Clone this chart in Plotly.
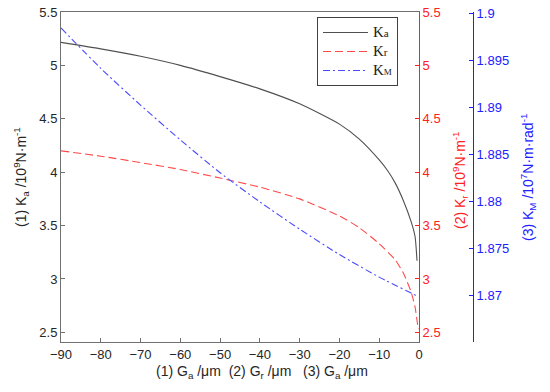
import plotly.graph_objects as go

# ---- data ----
ga_ka = [-90, -80, -70, -60, -50, -40, -30, -20, -15, -10, -8, -6, -4, -2, -1, -0.5]
ka = [5.216, 5.155, 5.085, 5.0, 4.895, 4.78, 4.64, 4.45, 4.31, 4.115, 4.02, 3.90, 3.74, 3.54, 3.40, 3.17]

gr_kr = [-90, -80, -70, -60, -50, -40, -30, -20, -15, -10, -6, -4, -2, -1, -0.3, -0.1]
kr = [4.20, 4.15, 4.09, 4.025, 3.945, 3.86, 3.75, 3.59, 3.48, 3.33, 3.18, 3.06, 2.88, 2.74, 2.56, 2.53]

ga_km = [-90, -80, -70, -60, -50, -40, -30, -20, -10, 0]
km = [1.8985, 1.8942, 1.8903, 1.8866, 1.8831, 1.8800, 1.8771, 1.8744, 1.8720, 1.8699]

x_ticks = [-90, -80, -70, -60, -50, -40, -30, -20, -10, 0]
k_ticks = [2.5, 3, 3.5, 4, 4.5, 5, 5.5]
km_ticks = [1.865, 1.87, 1.875, 1.88, 1.885, 1.89, 1.895, 1.9]
km_ticktext = ["1.865", "1.87", "1.875", "1.88", "1.885", "1.89", "1.895", "1.9"]

GRAY = "#404040"
RED = "#ff2020"
BLUE = "#2020ff"
FONT = "Liberation Sans, Arial, sans-serif"

# ---- geometry (pixels) ----
W, H = 550, 392
L, R, T, B = 61, 10, 12, 50
PW = W - L - R
PH = H - T - B
def px(x):
    return (x - L) / PW
def py(y):
    return 1 - (y - T) / PH

def leg(main, sub, subsize):
    return f"<span style='font-size:15px'>{main}</span><span style='font-size:{subsize}px'>{sub}</span>"

fig = go.Figure()
fig.add_trace(go.Scatter(x=ga_ka, y=ka, mode="lines", name=leg("K", "a", 11),
                         line=dict(color="#505050", width=1.1, shape="spline", smoothing=0.6), yaxis="y"))
fig.add_trace(go.Scatter(x=gr_kr, y=kr, mode="lines", name=leg("K", "r", 11),
                         line=dict(color="#ff4a4a", width=1.1, dash="8px,4px", shape="spline", smoothing=0.6),
                         yaxis="y2"))
fig.add_trace(go.Scatter(x=ga_km, y=km, mode="lines", name=leg("K", "M", 9),
                         line=dict(color="#4a4aff", width=1.1, dash="7px,3px,2px,3px", shape="spline", smoothing=0.6),
                         yaxis="y3"))

x_end = px(419)
fig.update_layout(
    width=W, height=H,
    margin=dict(l=L, r=R, t=T, b=B, autoexpand=False),
    paper_bgcolor="white", plot_bgcolor="white",
    showlegend=True,
    legend=dict(x=px(317), y=py(17), xanchor="left", yanchor="top",
                bordercolor=GRAY, borderwidth=1, bgcolor="white",
                font=dict(family="Liberation Serif, Times New Roman, serif", size=12, color="#202020"),
                tracegroupgap=0, itemwidth=45),
    xaxis=dict(domain=[0, x_end], range=[-90, 0], tickvals=x_ticks, automargin=False,
               showgrid=False, zeroline=False, showline=True, linecolor="#707070", linewidth=1,
               mirror=True, ticks="inside", ticklen=4, tickcolor="#707070",
               tickfont=dict(family=FONT, size=13, color="#262626")),
    yaxis=dict(range=[2.41, 5.5], tickvals=k_ticks, showgrid=False, zeroline=False, automargin=False,
               showline=True, linecolor="#707070", linewidth=1, ticks="inside", ticklen=4,
               tickcolor="#707070", tickfont=dict(family=FONT, size=13, color="#262626")),
    yaxis2=dict(range=[2.41, 5.5], tickvals=k_ticks, overlaying="y", side="right", anchor="x",
                showgrid=False, zeroline=False, showline=True, linecolor=RED, linewidth=1, automargin=False,
                ticks="inside", ticklen=4, tickcolor=RED,
                tickfont=dict(family=FONT, size=13, color=RED)),
    yaxis3=dict(range=[1.8651, 1.9002], tickvals=km_ticks, ticktext=km_ticktext,
                overlaying="y", side="right", anchor="free", position=px(473), automargin=False,
                showgrid=False, zeroline=False, showline=True, linecolor=BLUE, linewidth=1,
                ticks="inside", ticklen=4, tickcolor=BLUE,
                tickfont=dict(family=FONT, size=13, color=BLUE)),
)

ann_font = dict(family=FONT, size=14)
fig.add_annotation(xref="paper", yref="paper", x=px(21), y=py(177), textangle=-90,
                   text="(1) K<sub>a</sub> /10<sup>9</sup>N·m<sup>-1</sup>", showarrow=False,
                   xanchor="center", yanchor="middle", font=dict(color="#262626", **ann_font))
fig.add_annotation(xref="paper", yref="paper", x=px(460), y=py(180), textangle=-90,
                   text="(2) K<sub>r</sub> /10<sup>9</sup>N·m<sup>-1</sup>", showarrow=False,
                   xanchor="center", yanchor="middle", font=dict(color=RED, **ann_font))
fig.add_annotation(xref="paper", yref="paper", x=px(528), y=py(178), textangle=-90,
                   text="(3) K<sub>M</sub> /10<sup>7</sup>N·m·rad<sup>-1</sup>", showarrow=False,
                   xanchor="center", yanchor="middle", font=dict(color=BLUE, **ann_font))
fig.add_annotation(xref="paper", yref="paper", x=px(262), y=py(372),
                   text="(1) G<sub>a</sub> /μm  (2) G<sub>r</sub> /μm   (3) G<sub>a</sub> /μm",
                   showarrow=False, xanchor="center", yanchor="middle",
                   font=dict(color="#262626", **ann_font))

fig.write_html("out.html", config={"displayModeBar": False},
               post_script="document.body.style.margin='0';")
